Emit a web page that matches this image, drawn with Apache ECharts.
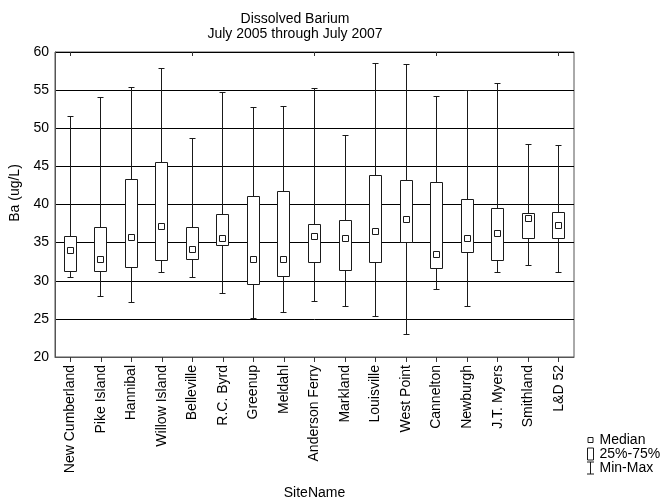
<!DOCTYPE html>
<html><head><meta charset="utf-8">
<script src="https://cdn.jsdelivr.net/npm/echarts@6/dist/echarts.min.js"></script>
<style>html,body{margin:0;padding:0;background:#fff}#c{width:663px;height:501px}</style>
</head><body><div id="c"></div>
<script>
const sites = ['New Cumberland','Pike Island','Hannibal','Willow Island','Belleville','R.C. Byrd','Greenup','Meldahl','Anderson Ferry','Markland','Louisville','West Point','Cannelton','Newburgh','J.T. Myers','Smithland','L&D 52'];
const minVals    = [30.4, 28.0, 27.2, 31.1, 30.45, 28.3, 25.1, 25.9, 27.3, 26.65, 25.25, 22.95, 28.9, 26.6, 31.05, 32.0, 31.05];
const q1Vals     = [31.15, 31.15, 31.8, 32.7, 32.75, 34.65, 29.45, 30.6, 32.4, 31.3, 32.35, 35.0, 31.55, 33.75, 32.6, 35.5, 35.5];
const medianVals = [34.0, 32.85, 35.65, 37.15, 34.1, 35.55, 32.85, 32.75, 35.85, 35.5, 36.5, 38.05, 33.4, 35.55, 36.25, 38.1, 37.2];
const q3Vals     = [35.75, 37.0, 43.3, 45.45, 37.0, 38.7, 41.05, 41.7, 37.35, 37.9, 43.85, 43.1, 42.95, 40.7, 39.45, 38.85, 38.95];
const maxVals    = [51.5, 54.05, 55.3, 57.85, 48.7, 54.75, 52.7, 52.8, 55.15, 49.1, 58.45, 58.3, 54.2, 54.9, 55.9, 47.9, 47.7];
const yMin = 20, yMax = 60, yStep = 5;

const FONT = '"Liberation Sans", Arial, sans-serif';
const INK = '#1a1a1a';
const rows = sites.map((s, i) => [i, minVals[i], q1Vals[i], medianVals[i], q3Vals[i], maxVals[i]]);
const crisp = v => Math.round(v - 0.5) + 0.5;

function whiskerItem(params, api) {
  const i = api.value(0);
  const pMin = api.coord([i, api.value(1)]);
  const pMax = api.coord([i, api.value(5)]);
  const x = crisp(pMin[0]);
  const yt = crisp(pMax[1]), yb = crisp(pMin[1]);
  const st = {stroke: INK, lineWidth: 1};
  return {type: 'group', children: [
    {type: 'line', shape: {x1: x, y1: yt, x2: x, y2: yb}, style: st},
    {type: 'line', shape: {x1: x - 3, y1: yt, x2: x + 3, y2: yt}, style: st},
    {type: 'line', shape: {x1: x - 3, y1: yb, x2: x + 3, y2: yb}, style: st}
  ]};
}
function boxItem(params, api) {
  const i = api.value(0);
  const pQ1 = api.coord([i, api.value(2)]);
  const pQ3 = api.coord([i, api.value(4)]);
  const x = crisp(pQ1[0]);
  const yt = crisp(pQ3[1]), yb = crisp(pQ1[1]);
  return {type: 'rect', shape: {x: x - 6, y: yt, width: 12, height: yb - yt},
    style: {fill: '#fff', stroke: INK, lineWidth: 1}};
}
function medianItem(params, api) {
  const i = api.value(0);
  const p = api.coord([i, api.value(3)]);
  const x = crisp(p[0]);
  const y = crisp(p[1]);
  return {type: 'rect', shape: {x: x - 3, y: y - 3, width: 6, height: 6},
    style: {fill: '#fff', stroke: INK, lineWidth: 1}};
}

const legendStyle = {color: '#fff', borderColor: INK, borderWidth: 1};
const chart = echarts.init(document.getElementById('c'), null, {renderer: 'canvas'});
chart.setOption({
  animation: false,
  backgroundColor: '#fff',
  textStyle: {fontFamily: FONT},
  title: {
    text: 'Dissolved Barium\nJuly 2005 through July 2007',
    left: 290, top: 7, textAlign: 'center',
    textStyle: {fontSize: 14, fontWeight: 'normal', color: '#000', lineHeight: 15, fontFamily: FONT}
  },
  legend: {
    orient: 'vertical', left: 586, top: 433, padding: 0,
    itemWidth: 8, itemHeight: 13, itemGap: 0, itemTextGap: 2,
    textStyle: {fontSize: 14, color: '#000', lineHeight: 13, fontFamily: FONT},
    selectedMode: false,
    data: [
      {name: 'Median', icon: 'path://M0,0M8,13M1.5,4h5v5h-5z', itemStyle: legendStyle},
      {name: '25%-75%', icon: 'path://M0,0M8,13M1,0.5h6v12h-6z', itemStyle: legendStyle},
      {name: 'Min-Max', icon: 'path://M0,0M8,13M4,0.5V12.5M0.5,0.5H7.5M0.5,12.5H7.5', itemStyle: legendStyle}
    ]
  },
  grid: {left: 55, right: 89, top: 52, bottom: 144, show: true, borderColor: '#555', borderWidth: 1,
    containLabel: false, outerBoundsMode: 'none'},
  xAxis: [{
    type: 'category', data: sites, position: 'bottom',
    name: 'SiteName', nameLocation: 'middle', nameGap: 129,
    nameTextStyle: {fontSize: 14, color: '#000', fontFamily: FONT},
    axisLine: {show: true, lineStyle: {color: '#555'}},
    axisTick: {show: true, alignWithLabel: true, length: 5, lineStyle: {color: '#333'}},
    axisLabel: {rotate: 90, interval: 0, fontSize: 14, color: '#000', margin: 8, fontFamily: FONT},
    splitLine: {show: false}
  }, {
    type: 'category', data: sites, position: 'top',
    axisLine: {show: false},
    axisTick: {show: true, inside: true, alignWithLabel: true, length: 4, lineStyle: {color: '#333'}},
    axisLabel: {show: false}, splitLine: {show: false}
  }],
  yAxis: {
    type: 'value', min: yMin, max: yMax, interval: yStep,
    name: 'Ba (ug/L)', nameLocation: 'middle', nameGap: 27,
    nameTextStyle: {fontSize: 14, color: '#000', fontFamily: FONT, padding: [0, 0, 0, 23]},
    axisLine: {show: true, lineStyle: {color: '#555'}},
    axisTick: {show: false},
    axisLabel: {fontSize: 14, color: '#000', margin: 6, fontFamily: FONT},
    splitLine: {show: true, lineStyle: {color: '#000', width: 1}}
  },
  series: [
    {name: 'Min-Max', type: 'custom', renderItem: whiskerItem, data: rows, encode: {x: 0, y: [1, 5]},
      itemStyle: legendStyle, z: 3},
    {name: '25%-75%', type: 'custom', renderItem: boxItem, data: rows, encode: {x: 0, y: [2, 4]},
      itemStyle: legendStyle, z: 4},
    {name: 'Median', type: 'custom', renderItem: medianItem, data: rows, encode: {x: 0, y: 3},
      itemStyle: legendStyle, z: 5}
  ]
});
</script>
</body></html>
